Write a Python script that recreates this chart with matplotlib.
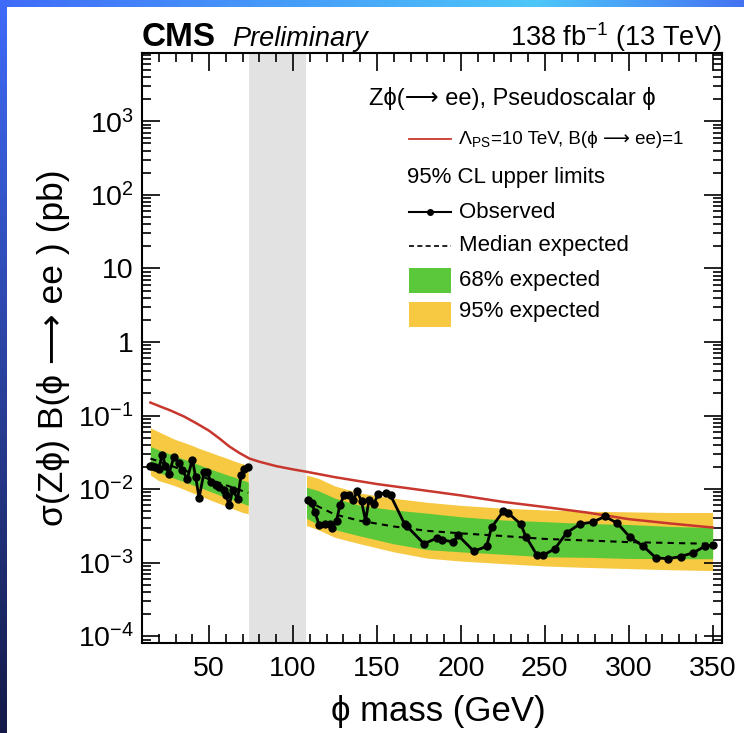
import numpy as np
import matplotlib
matplotlib.use("Agg")
import matplotlib.pyplot as plt
from matplotlib.lines import Line2D
from matplotlib.patches import Rectangle
from matplotlib.ticker import FixedLocator, FixedFormatter, MultipleLocator

plt.rcParams['font.family'] = ['Liberation Sans', 'DejaVu Sans']
plt.rcParams['mathtext.fontset'] = 'custom'
plt.rcParams['mathtext.rm'] = 'Liberation Sans'
plt.rcParams['mathtext.it'] = 'Liberation Sans:italic'
plt.rcParams['mathtext.bf'] = 'Liberation Sans:bold'

# ---------------- data ----------------
# theory line, Lambda_PS = 10 TeV
m_th = [15, 20, 27, 35, 43, 50, 56, 62, 68, 74, 80, 90, 100, 108, 125, 150,
        175, 200, 225, 250, 275, 300, 325, 350]
xs_th = [0.15, 0.135, 0.117, 0.097, 0.077, 0.062, 0.049, 0.038, 0.031, 0.026,
         0.0235, 0.0205, 0.0185, 0.0172, 0.0145, 0.0117, 0.0098, 0.0082,
         0.0067, 0.0057, 0.0048, 0.0039, 0.0034, 0.003]

# expected limits, low mass window
m_exp_lo = [15, 20, 25, 30, 35, 40, 45, 50, 55, 60, 65, 70, 73.3]
exp_lo = [0.026, 0.0238, 0.0216, 0.0197, 0.018, 0.0164, 0.015, 0.0136, 0.0124,
          0.0113, 0.0103, 0.0094, 0.0089]
p1s_lo = [0.038, 0.034, 0.031, 0.028, 0.0255, 0.0232, 0.021, 0.019, 0.0173,
          0.0158, 0.0145, 0.0132, 0.0125]
m1s_lo = [0.0185, 0.0168, 0.0152, 0.0138, 0.0126, 0.0114, 0.0104, 0.0094,
          0.0085, 0.0077, 0.007, 0.0064, 0.006]
p2s_lo = [0.068, 0.06, 0.053, 0.047, 0.043, 0.039, 0.035, 0.032, 0.029,
          0.0265, 0.024, 0.022, 0.021]
m2s_lo = [0.0155, 0.0130, 0.0120, 0.011, 0.0099, 0.0089, 0.008, 0.0072,
          0.0065, 0.0059, 0.0053, 0.0048, 0.0046]

# expected limits, high mass window
m_exp_hi = [108, 115, 125, 140, 160, 180, 200, 225, 250, 275, 300, 325, 350]
exp_hi = [0.0072, 0.0058, 0.0045, 0.0037, 0.0031, 0.0027, 0.0025, 0.0023,
          0.0021, 0.002, 0.0019, 0.00185, 0.0018]
p1s_hi = [0.0106, 0.0095, 0.0075, 0.006, 0.0052, 0.0047, 0.0042, 0.0038,
          0.0036, 0.0034, 0.0033, 0.0031, 0.003]
m1s_hi = [0.004, 0.0033, 0.0028, 0.0023, 0.0018, 0.0015, 0.0014, 0.0013,
          0.0012, 0.00118, 0.00114, 0.00113, 0.00113]
p2s_hi = [0.0155, 0.014, 0.011, 0.0088, 0.0075, 0.0066, 0.006, 0.0055,
          0.0052, 0.005, 0.0049, 0.0048, 0.0048]
m2s_hi = [0.0032, 0.0028, 0.0022, 0.0018, 0.0014, 0.00115, 0.00105, 0.00097,
          0.0009, 0.00086, 0.00083, 0.0008, 0.00078]

# observed limits
m_obs_lo = [15, 16, 18, 20, 22, 24, 26, 29, 32, 34, 37, 40, 42, 44, 47, 49,
            51, 54, 56, 59, 60, 62, 64, 67, 69, 71, 73]
obs_lo = [0.0209, 0.0209, 0.0202, 0.0188, 0.0295, 0.0209, 0.0161, 0.0271,
          0.0225, 0.0179, 0.0138, 0.0252, 0.0145, 0.0076, 0.017, 0.017,
          0.0124, 0.0114, 0.0106, 0.0096, 0.0082, 0.006, 0.0096, 0.0074,
          0.0153, 0.0188, 0.0198]
m_obs_hi = [109, 111, 113, 115.6, 118.9, 121.9, 123.5, 125.9, 127.9, 130.3,
            133.5, 135.8, 138.2, 140.8, 143.2, 145.2, 148.1, 150.7, 155.3, 158.1,
            166.6, 168, 178, 185.5, 188.5, 195.4, 198.4, 207.7, 215.3, 218.3,
            225.2, 228.2, 235.6, 238.7, 245.5, 248.7, 256, 263, 271, 278.5,
            285.8, 293.2, 300.7, 308.7, 316.2, 323.6, 330.9, 338.5, 345.4, 350]
obs_hi = [0.0070, 0.0065, 0.0049, 0.0032, 0.0034, 0.0034, 0.0030, 0.0037, 0.0060, 0.0082,
          0.0083, 0.0070, 0.0093, 0.0068, 0.0037, 0.0070, 0.0062, 0.0086, 0.0088, 0.0082,
          0.0033, 0.0031, 0.0018, 0.00215, 0.00206, 0.0019, 0.00234, 0.00143, 0.00166, 0.00303,
          0.00496, 0.0047, 0.00336, 0.00226, 0.00125, 0.00125, 0.00154, 0.00254, 0.00336, 0.00355,
          0.00424, 0.00344, 0.00222, 0.00167, 0.00116, 0.00113, 0.00121, 0.00136, 0.00167, 0.00173]

z_window = (74, 108)

y_ticks = [1e-4, 1e-3, 1e-2, 1e-1, 1, 10, 1e2, 1e3]
y_labels = [r'$\mathregular{10^{-4}}$', r'$\mathregular{10^{-3}}$',
            r'$\mathregular{10^{-2}}$', r'$\mathregular{10^{-1}}$', '1', '10',
            r'$\mathregular{10^{2}}$', r'$\mathregular{10^{3}}$']

GREEN = '#5ac83a'
YELLOW = '#f7c942'
RED = '#c8372d'

W, H = 744, 733
fig = plt.figure(figsize=(W / 100, H / 100), dpi=100)
fig.patch.set_facecolor('white')

def fx(px):
    return px / W

def fy(py):
    return 1 - py / H

# slide background (blue border strips)
bg = fig.add_axes([0, 0, 1, 1])
bg.set_xlim(0, W)
bg.set_ylim(H, 0)
bg.axis('off')
left = np.linspace(0, 1, 200)[:, None, None]
left_col = (1 - left) * np.array([0.25, 0.42, 0.98]) + left * np.array([0.08, 0.1, 0.28])
bg.imshow(np.repeat(left_col, 2, axis=1), extent=(0, 7, H, 0), aspect='auto')
top = np.linspace(0, 1, 300)[None, :, None]
c1 = np.array([0.25, 0.42, 0.98])
c2 = np.array([0.3, 0.78, 0.98])
c3 = np.array([0.27, 0.45, 0.95])
top_col = np.where(top < 0.72, c1 + (c2 - c1) * top / 0.72, c2 + (c3 - c2) * (top - 0.72) / 0.28)
bg.imshow(np.repeat(top_col, 2, axis=0), extent=(0, W, 7, 0), aspect='auto')

# ---------------- main axes ----------------
ax = fig.add_axes([fx(142), fy(643.3), fx(721.7) - fx(142), fy(53.3) - fy(643.3)])
ax.set_yscale('log')

ax.fill_between(m_exp_lo, m2s_lo, p2s_lo, color=YELLOW, lw=0, zorder=1)
ax.fill_between(m_exp_lo, m1s_lo, p1s_lo, color=GREEN, lw=0, zorder=2)
ax.plot(m_exp_lo, exp_lo, color='k', ls=(0, (3, 2.5)), lw=1.5, zorder=3)
ax.fill_between(m_exp_hi, m2s_hi, p2s_hi, color=YELLOW, lw=0, zorder=1)
ax.fill_between(m_exp_hi, m1s_hi, p1s_hi, color=GREEN, lw=0, zorder=2)
ax.plot(m_exp_hi, exp_hi, color='k', ls=(0, (3, 2.5)), lw=1.5, zorder=3)

ax.axvspan(z_window[0], z_window[1], color='#e2e2e2', lw=0, zorder=0.5)

ax.plot(m_th, xs_th, color=RED, lw=1.8, zorder=4)
ax.plot(m_obs_lo, obs_lo, 'k-o', lw=2, ms=5, zorder=5)
ax.plot(m_obs_hi, obs_hi, 'k-o', lw=2, ms=5, zorder=5)

ax.set_xlim(10, 355.4)
ax.set_ylim(8e-5, 8.4e3)

ax.xaxis.set_major_locator(FixedLocator([50, 100, 150, 200, 250, 300, 350]))
ax.xaxis.set_minor_locator(MultipleLocator(10))
ax.yaxis.set_major_locator(FixedLocator(y_ticks))
ax.yaxis.set_major_formatter(FixedFormatter(y_labels))
minors = [s * 10.0 ** e for e in range(-5, 4) for s in range(2, 10)]
ax.yaxis.set_minor_locator(FixedLocator(minors))
ax.yaxis.set_minor_formatter(FixedFormatter([''] * len(minors)))

ax.tick_params(which='both', direction='in', top=True, right=True, width=1.2,
               labelsize=20.5)
ax.tick_params(which='major', length=13)
ax.tick_params(which='minor', length=6.5)
ax.tick_params(axis='x', pad=9)
ax.tick_params(axis='y', pad=6)
for s in ax.spines.values():
    s.set_linewidth(1.5)

fig.text(fx(438), fy(712), 'ϕ mass (GeV)', fontsize=25, ha='center', va='center')
fig.text(fx(53), fy(348), 'σ(Zϕ) B(ϕ ⟶ ee ) (pb)', fontsize=25.5, ha='center',
         va='center', rotation=90)

# header
fig.text(fx(142), fy(46), 'CMS', fontsize=24, fontweight='bold', ha='left',
         va='baseline')
fig.text(fx(232), fy(46), 'Preliminary', fontsize=19.5, style='italic',
         ha='left', va='baseline')
fig.text(fx(721), fy(46), r'138 fb$^{\mathregular{-1}}$ (13 TeV)', fontsize=19.5,
         ha='right', va='baseline')

# ---------------- legend ----------------
fig.text(fx(369), fy(98), 'Zϕ(⟶ ee), Pseudoscalar ϕ', fontsize=17, ha='left',
         va='center')

fig.add_artist(Line2D([fx(409), fx(451)], [fy(139), fy(139)], color=RED, lw=1.3,
                      transform=fig.transFigure))
lam = fig.text(fx(458), fy(139), r'$\Lambda_{\mathregular{PS}}$', fontsize=14,
               ha='left', va='center')
ax.annotate('=10 TeV, B(ϕ ⟶ ee)=1', xy=(1, 0.5), xycoords=lam, va='center',
            ha='left', fontsize=13.5, annotation_clip=False)

fig.text(fx(407), fy(178), '95% CL upper limits', fontsize=16, ha='left',
         va='center')

fig.add_artist(Line2D([fx(409), fx(451)], [fy(212), fy(212)], color='k', lw=1.5,
                      transform=fig.transFigure))
fig.add_artist(Line2D([fx(430)], [fy(212)], color='k', marker='o', ms=4,
                      transform=fig.transFigure))
fig.text(fx(459), fy(212), 'Observed', fontsize=16, ha='left', va='center')

fig.add_artist(Line2D([fx(409), fx(451)], [fy(246), fy(246)], color='k', lw=1.2,
                      ls=(0, (3, 2)), transform=fig.transFigure))
fig.text(fx(459), fy(246), 'Median expected', fontsize=16, ha='left', va='center')

fig.add_artist(Rectangle((fx(409), fy(293)), fx(451) - fx(409), fy(268) - fy(293),
                         color=GREEN, lw=0, transform=fig.transFigure))
fig.text(fx(459), fy(280), '68% expected', fontsize=16, ha='left', va='center')

fig.add_artist(Rectangle((fx(409), fy(327)), fx(451) - fx(409), fy(302) - fy(327),
                         color=YELLOW, lw=0, transform=fig.transFigure))
fig.text(fx(459), fy(312), '95% expected', fontsize=16, ha='left', va='center')

fig.savefig('out.png', dpi=100)
